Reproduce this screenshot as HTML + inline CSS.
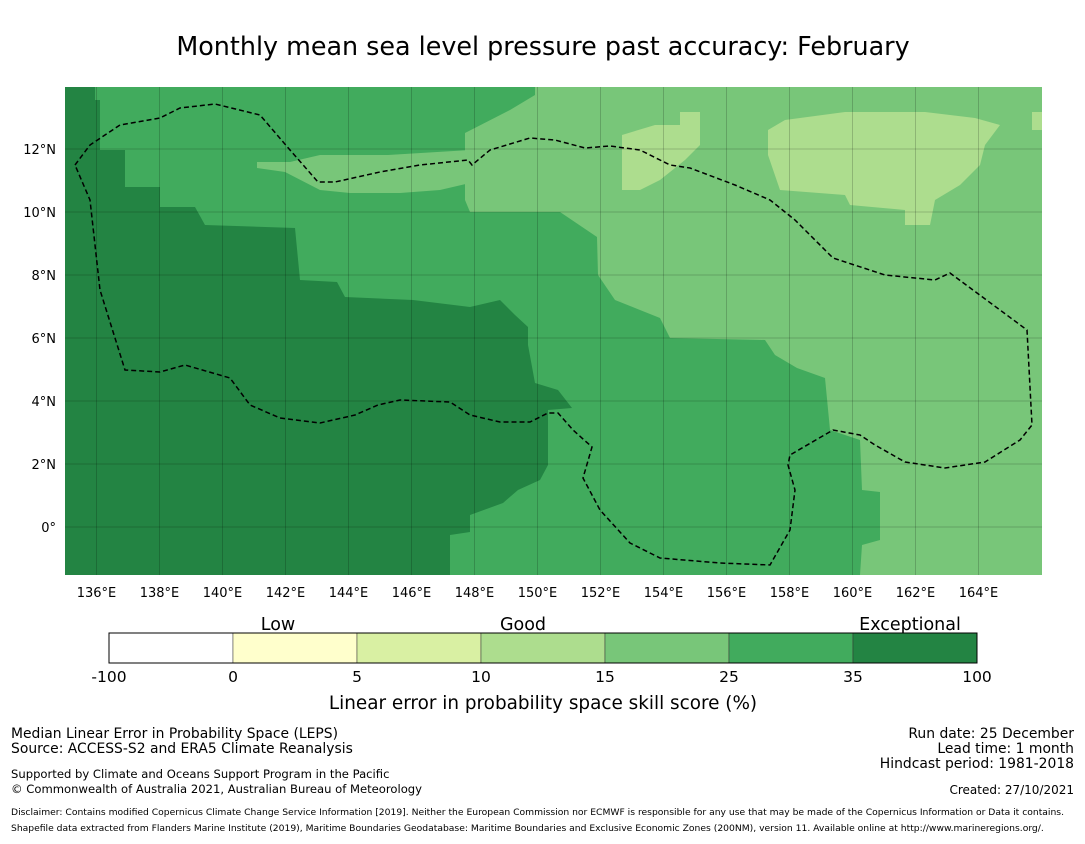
<!DOCTYPE html>
<html><head><meta charset="utf-8">
<style>
body{margin:0;background:#fff;font-family:"Liberation Sans","DejaVu Sans",sans-serif;}
svg text{font-family:"DejaVu Sans","Liberation Sans",sans-serif;}
</style></head>
<body>
<svg width="1085" height="839" viewBox="0 0 1085 839" xmlns="http://www.w3.org/2000/svg">
<text x="543" y="55" font-size="25.4" text-anchor="middle">Monthly mean sea level pressure past accuracy: February</text>
<defs><clipPath id="mc"><rect x="65" y="87" width="977" height="488"/></clipPath></defs>
<g clip-path="url(#mc)">
<rect x="65" y="87" width="977" height="488" fill="#78c679"/>
<polygon fill="#41ab5d" points="65,87 535,87 535,95 510,110 465,133 465,200 470,212 560,212 597,237 598,275 615,300 660,318 670,338 765,340 775,355 797,368 825,378 830,430 860,440 862,490 880,492 880,540 862,545 860,575 65,575"/>
<polygon fill="#78c679" points="257,162 290,162 320,155 388,155 470,150 470,183 440,190 400,193 350,193 320,190 285,172 257,168"/>
<polygon fill="#238443" points="65,87 95,87 95,100 100,100 100,150 125,150 125,187 160,187 160,207 195,207 205,225 295,228 300,280 337,282 345,297 413,300 470,307 500,300 515,315 528,327 528,345 535,383 558,390 572,408 548,410 548,465 540,480 518,490 503,503 470,515 470,532 450,535 450,575 65,575"/>
<polygon fill="#addd8e" points="655,125 680,125 680,112 700,112 700,145 685,160 660,180 640,190 622,190 622,135"/>
<polygon fill="#addd8e" points="768,130 785,120 845,112 925,112 975,118 1000,125 985,145 980,165 960,185 935,200 930,225 905,225 905,210 850,205 845,195 780,190 768,155"/>
<rect x="1032" y="112" width="10" height="18" fill="#addd8e"/>
<g id="grid" stroke="#000" stroke-opacity="0.18" stroke-width="1"></g>
<polyline fill="none" stroke="#000" stroke-width="1.5" stroke-dasharray="5,3" points="75,165 90,145 120,125 160,118 180,108 215,104 260,115 290,150 318,182 335,182 380,172 420,165 468,160 472,165 490,150 530,138 555,140 585,148 610,146 640,150 670,165 690,168 735,185 770,200 795,220 833,258 885,275 935,280 950,273 1027,330 1032,425 1020,440 985,462 945,468 905,462 875,445 860,435 833,430 790,455 788,465 795,490 790,530 770,565 720,563 660,558 630,543 600,510 583,478 592,447 573,430 558,413 548,413 530,422 500,422 470,415 450,402 400,400 378,405 355,415 320,423 280,418 250,405 230,378 185,365 160,372 125,370 100,290 90,200 75,165"/>
</g>
<g id="ticks" font-size="13"></g>
<g id="cbar"></g>
<text x="278" y="630" font-size="17.5" text-anchor="middle">Low</text>
<text x="523" y="630" font-size="17.5" text-anchor="middle">Good</text>
<text x="910" y="630" font-size="17.5" text-anchor="middle">Exceptional</text>
<text x="543" y="709" font-size="18.4" text-anchor="middle">Linear error in probability space skill score (%)</text>
<g font-size="13.9">
<text x="11" y="738">Median Linear Error in Probability Space (LEPS)</text>
<text x="11" y="753">Source: ACCESS-S2 and ERA5 Climate Reanalysis</text>
<text x="11" y="778" font-size="11.6">Supported by Climate and Oceans Support Program in the Pacific</text>
<text x="11" y="793" font-size="11.6">© Commonwealth of Australia 2021, Australian Bureau of Meteorology</text>
</g>
<g font-size="13.9" text-anchor="end">
<text x="1074" y="738">Run date: 25 December</text>
<text x="1074" y="753">Lead time: 1 month</text>
<text x="1074" y="768">Hindcast period: 1981-2018</text>
<text x="1074" y="794" font-size="12">Created: 27/10/2021</text>
</g>
<text x="11" y="815" font-size="9.2">Disclaimer: Contains modified Copernicus Climate Change Service Information [2019]. Neither the European Commission nor ECMWF is responsible for any use that may be made of the Copernicus Information or Data it contains.</text>
<text x="11" y="831" font-size="9.2">Shapefile data extracted from Flanders Marine Institute (2019), Maritime Boundaries Geodatabase: Maritime Boundaries and Exclusive Economic Zones (200NM), version 11. Available online at http://www.marineregions.org/.</text>
</svg>
<script>
const lonTicks=[136,138,140,142,144,146,148,150,152,154,156,158,160,162,164];
const latTicks=[12,10,8,6,4,2,0];
const cbBounds=["-100","0","5","10","15","25","35","100"];
const cbColors=["#ffffff","#ffffcc","#d9f0a3","#addd8e","#78c679","#41ab5d","#238443"];
const NS="http://www.w3.org/2000/svg";
const xOf=lon=>65+(lon-135)*31.5;
const yOf=lat=>527-lat*31.5;
const grid=document.getElementById('grid'),ticks=document.getElementById('ticks'),cbar=document.getElementById('cbar');
function mk(tag,at,parent){const e=document.createElementNS(NS,tag);for(const k in at)e.setAttribute(k,at[k]);parent.appendChild(e);return e;}
lonTicks.forEach(l=>{
 const g=mk('line',{x1:xOf(l),x2:xOf(l),y1:87,y2:575},grid);
 
 
 const t=mk('text',{x:xOf(l),y:597,'text-anchor':'middle'},ticks);t.textContent=l+'°E';
 
 
});
latTicks.forEach(l=>{
 const g=mk('line',{x1:65,x2:1042,y1:yOf(l),y2:yOf(l)},grid);
 
 
 const t=mk('text',{x:56,y:yOf(l)+5,'text-anchor':'end'},ticks);t.textContent=l===0?'0°':l+'°N';
 
 
});
const segW=(977-109)/cbColors.length;
cbColors.forEach((c,i)=>{
 const r=mk('rect',{x:109+i*segW,y:633,width:segW,height:30,fill:c,stroke:'#333','stroke-width':0.5},cbar);
 
 
});
mk('rect',{x:109,y:633,width:868,height:30,fill:'none',stroke:'#000','stroke-width':1},cbar);
cbBounds.forEach((b,i)=>{
 const t=mk('text',{x:109+i*segW,y:682,'font-size':15.5,'text-anchor':'middle'},cbar);t.textContent=b;
 
 
});
</script>
</body></html>
